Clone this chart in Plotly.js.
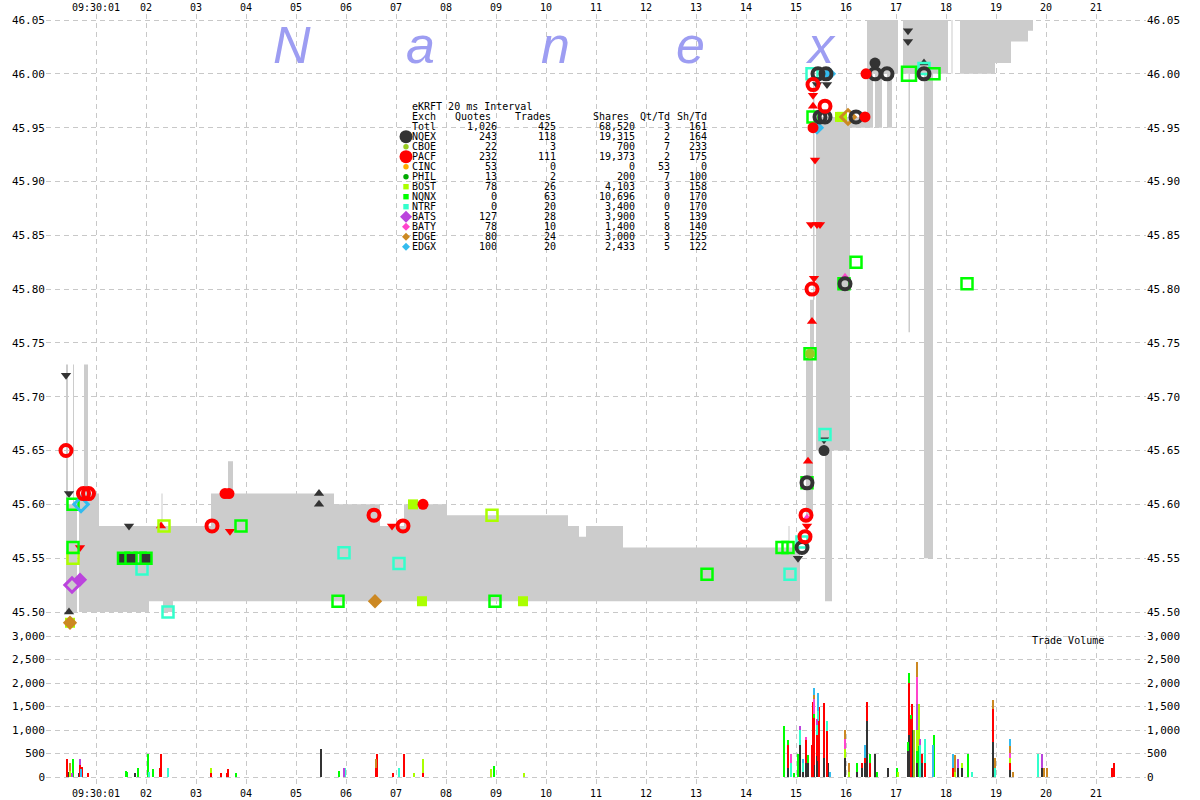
<!DOCTYPE html>
<html><head><meta charset="utf-8">
<script src="https://cdn.plot.ly/plotly-3.0.1.min.js"></script>
<style>html,body{margin:0;padding:0;background:#fff}#chart{width:1200px;height:800px}</style>
</head><body><div id="chart"></div>
<script>
// ---------- axis ticks ----------
const timeTicks = [1,2,3,4,5,6,7,8,9,10,11,12,13,14,15,16,17,18,19,20,21,22];
const timeLabels = ['09:30:01','02','03','04','05','06','07','08','09','10','11','12','13','14','15','16','17','18','19','20','21',''];
const priceTicks = [45.50,45.55,45.60,45.65,45.70,45.75,45.80,45.85,45.90,45.95,46.00,46.05];
const volTicks = [0,500,1000,1500,2000,2500,3000];

// ---------- summary table ----------
const exchNames = ['NQEX','CBOE','PACF','CINC','PHIL','BOST','NQNX','NTRF','BATS','BATY','EDGE','EDGX'];
const exchColors = ['#333333','#99cc22','#ff0000','#ffaa00','#00aa00','#aaff00','#00ff00','#33ffcc','#bb44dd','#ff44cc','#cc8822','#33bbee'];
const exchQuotes = [243,22,232,53,13,78,0,0,127,78,80,100];
const exchTrades = [118,3,111,0,2,26,63,20,28,10,24,20];
const exchShares = [19315,700,19373,0,200,4103,10696,3400,3900,1400,3000,2433];
const exchQtTd = [2,7,2,53,7,3,0,0,5,8,3,5];
const exchShTd = [164,233,175,0,100,158,170,170,139,140,125,122];
const totalRow = ['Totl',1026,425,68520,3,161];

// ---------- NBBO spread blocks: [start s, end s, low, high] ----------
const spreadBlocks = [
 [0.40,0.44,45.50,45.73],[0.54,0.56,45.50,45.73],[0.40,0.62,45.50,45.60],
 [0.66,1.06,45.50,45.61],[0.76,0.84,45.61,45.73],[1.06,2.06,45.50,45.58],
 [2.06,2.34,45.51,45.58],[2.34,2.54,45.50,45.58],[2.54,3.30,45.51,45.58],
 [2.31,2.33,45.58,45.61],[3.30,5.76,45.51,45.61],[3.64,3.74,45.61,45.64],
 [5.76,6.68,45.51,45.60],[6.68,7.16,45.51,45.58],[7.16,8.02,45.51,45.60],
 [8.02,10.44,45.51,45.59],[10.44,10.66,45.51,45.58],[10.66,10.80,45.51,45.57],
 [10.80,11.54,45.51,45.58],[11.54,15.08,45.51,45.56],[14.85,14.87,45.56,45.58],
 [15.20,15.34,45.59,45.74],[15.28,15.36,45.74,45.79],[15.34,15.37,45.79,46.00],
 [15.40,16.08,45.65,45.96],[15.58,15.72,45.51,45.65],[16.08,16.44,45.95,45.96],
 [16.42,17.04,46.00,46.05],[16.42,16.54,45.95,46.00],[16.58,16.72,45.95,46.00],
 [16.82,16.92,45.95,46.00],[17.14,18.04,46.00,46.05],[17.25,17.28,45.76,46.00],
 [17.56,17.74,45.55,46.00],[18.11,18.13,46.00,46.05],[18.28,18.98,46.00,46.05],
 [18.98,19.30,46.01,46.05],[19.30,19.64,46.03,46.05],[19.64,19.74,46.04,46.05]
];

// ---------- price points [time s, price] ----------
const tradesNQEX = [[15.44,46.00],[15.60,46.00],[15.48,45.96],[15.58,45.96],[16.20,45.96],[16.58,46.00],[16.82,46.00],[17.56,46.00],[15.22,45.62],[15.98,45.805],[15.12,45.56]];
const solidNQEX = [[16.58,46.01],[15.56,45.65]];
const bidsNQEX = [[0.46,45.50],[5.46,45.61],[5.46,45.60],[17.56,46.01]];
const asksNQEX = [[0.40,45.72],[0.46,45.61],[1.66,45.58],[15.42,45.99],[15.62,45.99],[15.56,45.66],[17.24,46.04],[17.24,46.03],[15.04,45.55]];
const tradesPACF = [[0.40,45.65],[0.75,45.61],[0.85,45.61],[3.32,45.58],[6.56,45.59],[7.14,45.58],[15.18,45.57],[15.20,45.59],[15.32,45.80],[15.58,45.97],[15.34,45.99]];
const solidPACF = [[3.58,45.61],[3.66,45.61],[7.54,45.60],[16.40,46.00],[16.38,45.96],[15.34,45.95]];
const bidsPACF = [[2.30,45.58],[15.24,45.64],[15.32,45.77],[15.34,45.97]];
const asksPACF = [[0.68,45.56],[3.68,45.575],[6.92,45.58],[15.22,45.58],[15.34,45.98],[15.38,45.92],[15.36,45.81],[15.30,45.86],[15.42,45.86],[15.48,45.86]];
const tradesNQNX = [[0.54,45.60],[0.54,45.56],[1.88,45.55],[3.90,45.58],[5.84,45.51],[8.98,45.51],[13.22,45.535],[14.72,45.56],[14.84,45.56],[15.22,45.62],[15.28,45.74],[15.96,45.805],[16.20,45.825],[18.42,45.805],[17.76,46.00],[15.34,45.96]];
const darkNQNX = [[1.55,45.55],[1.70,45.55],[2.00,45.55]];
const bigNQNX = [[17.26,46.00]];
const tradesBOST = [[0.54,45.55],[2.36,45.58],[8.92,45.59]];
const solidBOST = [[0.48,45.49],[7.34,45.60],[7.52,45.51],[9.54,45.51],[15.88,45.96],[15.92,45.96]];
const tradesNTRF = [[1.92,45.54],[2.44,45.50],[5.96,45.555],[7.06,45.545],[14.88,45.535],[15.12,45.565],[15.58,45.665],[15.32,46.00],[17.56,46.005]];
const pointsCBOE = [[15.28,45.74]];
const solidEDGE = [[0.48,45.49],[6.58,45.51]];
const openEDGE = [[16.04,45.96]];
const solidEDGX = [[15.66,46.00],[15.42,45.95]];
const openEDGX = [[0.70,45.60]];
const openBATS = [[0.52,45.525]];
const solidBATS = [[0.68,45.53]];
const pointsBATY = [[15.22,45.588],[15.98,45.812]];

// ---------- trade volume per 20 ms interval [time s, shares] ----------
const volNQEX = [[0.42,90],[0.46,100],[0.66,90],[1.77,90],[5.50,600],[14.84,200],[15.08,680],[15.14,100],[15.20,300],[15.24,300],[15.36,250],[15.42,450],[15.44,350],[15.56,400],[15.64,300],[15.98,400],[16.22,100],[16.32,200],[16.38,300],[16.42,1200],[16.58,480],[16.84,200],[17.23,550],[17.26,900],[17.32,1000],[17.42,300],[17.52,300],[18.24,200],[18.32,200],[18.94,750],[19.28,150],[19.92,200]];
const volPACF = [[0.41,380],[0.68,250],[0.72,210],[0.84,90],[2.28,200],[2.30,490],[3.30,90],[3.50,90],[3.62,90],[3.64,170],[6.60,200],[6.62,490],[6.94,90],[7.15,490],[7.53,90],[14.84,490],[15.20,490],[15.32,680],[15.34,1600],[15.36,1000],[15.42,450],[15.44,850],[15.46,1480],[15.56,1180],[15.62,985],[16.32,100],[16.38,100],[16.42,400],[16.48,300],[17.26,1090],[17.30,1230],[17.32,560],[17.52,200],[17.58,300],[18.14,200],[18.94,690],[19.28,150],[21.32,200],[21.36,300]];
const volNQNX = [[0.54,380],[1.60,125],[1.62,100],[1.83,190],[2.03,500],[2.13,170],[3.80,90],[5.86,130],[8.96,240],[14.76,1085],[14.84,100],[14.96,90],[15.04,480],[15.24,160],[15.36,100],[16.22,200],[16.48,180],[16.62,100],[17.02,190],[17.23,200],[17.26,220],[17.30,80],[17.42,250],[17.46,650],[17.76,900],[18.44,500]];
const volBOST = [[0.47,120],[3.30,100],[7.35,90],[7.53,290],[8.90,170],[9.56,90],[15.98,200],[16.06,100],[17.04,100],[17.42,450],[17.46,900],[18.18,100],[18.32,100],[19.28,100]];
const volNTRF = [[2.05,100],[2.44,190],[5.98,190],[7.05,190],[14.90,300],[15.08,320],[15.14,200],[15.42,200],[15.44,200],[15.62,215],[17.48,690],[17.58,500],[18.52,100],[18.98,200],[19.84,500]];
const volBATS = [[0.52,90],[0.68,130],[5.96,190],[15.08,85],[15.42,140],[17.42,550],[17.48,110],[18.24,175],[19.92,300]];
const volBATY = [[14.90,200],[15.20,60],[15.36,300],[15.98,200],[17.42,580],[19.28,110]];
const volEDGE = [[0.47,180],[6.60,180],[15.36,100],[15.98,200],[16.06,200],[17.42,310],[18.18,370],[18.94,190],[18.98,200],[19.28,150],[19.34,100],[19.96,200],[20.02,200]];
const volEDGX = [[0.69,180],[15.14,90],[15.36,150],[15.44,390],[15.68,100],[16.38,290],[17.74,690],[18.14,300],[19.28,140]];
const volCBOE = [[17.36,990]];

// ---------- build ----------
const C = {}; exchNames.forEach((n,i)=>C[n]=exchColors[i]);
const traces = [];

// spread shading
const bx=[], by=[];
spreadBlocks.forEach(b=>{ bx.push(b[0],b[1],b[1],b[0],b[0],null); by.push(b[2],b[2],b[3],b[3],b[2],null); });
traces.push({type:'scatter',mode:'lines',x:bx,y:by,fill:'toself',fillcolor:'#cccccc',
  line:{width:0,color:'rgba(0,0,0,0)'},hoverinfo:'skip',showlegend:false,xaxis:'x',yaxis:'y'});

function pts(arr, sym, color, size, lw, lcolor){
  traces.push({type:'scatter',mode:'markers',x:arr.map(p=>p[0]),y:arr.map(p=>p[1]),
    marker:{symbol:sym,color:color,size:size,line:{width:lw,color:lcolor||color}},
    hoverinfo:'skip',showlegend:false,xaxis:'x',yaxis:'y',cliponaxis:false});
}
pts(asksNQEX,'triangle-down',C.NQEX,9,0);
pts(bidsNQEX,'triangle-up',C.NQEX,9,0);
pts(asksPACF,'triangle-down',C.PACF,9,0);
pts(bidsPACF,'triangle-up',C.PACF,9,0);
pts(tradesNTRF,'square-open',C.NTRF,11,2.5);
pts(tradesBOST,'square-open',C.BOST,11,2.5);
pts(solidBOST,'square',C.BOST,10,0);
pts(tradesNQNX,'square-open',C.NQNX,11,2.5);
pts(darkNQNX,'square',C.NQEX,11,2.5,C.NQNX);
pts(bigNQNX,'square-open',C.NQNX,14,2.5);
pts(pointsCBOE,'circle',C.CBOE,10,0);
pts(openBATS,'diamond-open',C.BATS,11,3);
pts(solidBATS,'diamond',C.BATS,11,0);
pts(pointsBATY,'triangle-up',C.BATY,7,0);
pts(solidEDGE,'diamond',C.EDGE,11,0);
pts(openEDGE,'diamond-open',C.EDGE,11,3);
pts(openEDGX,'diamond-open',C.EDGX,11,3);
pts(solidEDGX,'diamond',C.EDGX,11,0);
pts(tradesNQEX,'circle-open',C.NQEX,11,4);
pts(solidNQEX,'circle',C.NQEX,11,0);
pts(tradesPACF,'circle-open',C.PACF,11,4);
pts(solidPACF,'circle',C.PACF,11,0);

// volume bars (stacked)
[['NQEX',volNQEX],['PACF',volPACF],['NQNX',volNQNX],['BOST',volBOST],['NTRF',volNTRF],
 ['BATS',volBATS],['BATY',volBATY],['EDGE',volEDGE],['EDGX',volEDGX],['CBOE',volCBOE]].forEach(([n,arr])=>{
  traces.push({type:'bar',x:arr.map(p=>p[0]),y:arr.map(p=>p[1]),width:0.04,
    marker:{color:C[n],line:{width:0}},hoverinfo:'skip',showlegend:false,xaxis:'x2',yaxis:'y2'});
});
// carriers for right-side axes
traces.push({type:'scatter',mode:'markers',x:[null],y:[null],xaxis:'x',yaxis:'y3',showlegend:false,hoverinfo:'skip'});
traces.push({type:'scatter',mode:'markers',x:[null],y:[null],xaxis:'x2',yaxis:'y4',showlegend:false,hoverinfo:'skip'});

// geometry helpers (pixel -> paper)
const L=46, R=54, T=14, B=14, W=1200, H=800;
const pw=W-L-R, ph=H-T-B;
const xp = px => (px-L)/pw;
const yp = py => (H-B-py)/ph;
const splitY = yp(626);

const mono = 'DejaVu Sans Mono';
const tickF = {family:mono,size:10,color:'#000'};
const yTickF = {family:mono,size:11,color:'#000'};
const grid = {showgrid:true,gridcolor:'#c8c8c8',gridwidth:1,griddash:'5px,4px',zeroline:false,showline:false,ticks:''};

const annotations = [];
const shapes = [];
// watermark
['N','a','n','e','x'].forEach((ch,i)=>{
  annotations.push({xref:'paper',yref:'paper',x:xp([292,420,555,690,820][i]),y:yp(45),text:ch,showarrow:false,
    xanchor:'center',yanchor:'middle',height:44,valign:'middle',borderpad:0,borderwidth:0,
    font:{family:'Liberation Sans',size:52,color:'#9d9df2',style:'italic'}});
});
function cell(txt, px, py, anchor){
  annotations.push({xref:'paper',yref:'paper',x:xp(px),y:yp(py),text:txt,showarrow:false,
    xanchor:anchor,yanchor:'middle',borderpad:0,borderwidth:0,font:{family:mono,size:10,color:'#000'}});
}
const fmt = v => v.toLocaleString('en-US');
cell('eKRFT 20 ms Interval',412,106.7,'left');
cell('Exch',412,116.7,'left');
cell('Quotes',491,116.7,'right'); cell('Trades',551,116.7,'right'); cell('Shares',629,116.7,'right');
cell('Qt/Td',670,116.7,'right'); cell('Sh/Td',707,116.7,'right');
const colX = [497,556,635,670,707];
function row(vals, py){
  cell(vals[0],412,py,'left');
  for(let k=1;k<6;k++) cell(fmt(vals[k]),colX[k-1],py,'right');
}
row(totalRow,126.7);
exchNames.forEach((n,i)=>{
  const py = 136.7+10*i;
  row([n,exchQuotes[i],exchTrades[i],exchShares[i],exchQtTd[i],exchShTd[i]],py);
  const big = (n==='NQEX'||n==='PACF');
  const isSq = ['BOST','NQNX','NTRF'].includes(n);
  const isDi = ['BATS','BATY','EDGE','EDGX'].includes(n);
  const r = big?6.5:(n==='BATS'?6:(isDi?4:2.7));
  const base = {xref:'paper',yref:'paper',xsizemode:'pixel',ysizemode:'pixel',xanchor:xp(406),yanchor:yp(py),
    fillcolor:exchColors[i],line:{width:0},layer:'above'};
  if(isDi) shapes.push(Object.assign({type:'path',path:`M0,${-r} L${r},0 L0,${r} L${-r},0 Z`},base));
  else if(isSq) shapes.push(Object.assign({type:'rect',x0:-r,x1:r,y0:-r,y1:r},base));
  else shapes.push(Object.assign({type:'circle',x0:-r,x1:r,y0:-r,y1:r},base));
});
cell('Trade Volume',1104,640,'right');

const layout = {
  width:W,height:H,margin:{l:L,r:R,t:T,b:B,pad:0},
  paper_bgcolor:'#fff',plot_bgcolor:'#fff',showlegend:false,barmode:'stack',
  xaxis:Object.assign({domain:[0,1],range:[0,22],anchor:'y',side:'top',tickvals:timeTicks,ticktext:timeLabels,tickfont:tickF},grid),
  xaxis2:Object.assign({domain:[0,1],range:[0,22],anchor:'y2',side:'bottom',matches:'x',tickvals:timeTicks,ticktext:timeLabels,tickfont:tickF},grid),
  yaxis:Object.assign({domain:[splitY,1],range:[45.487,46.0556],anchor:'x',side:'left',tickvals:priceTicks,tickformat:'.2f',tickfont:yTickF},grid),
  yaxis3:{overlaying:'y',side:'right',anchor:'x',range:[45.487,46.0556],tickvals:priceTicks,tickformat:'.2f',tickfont:yTickF,showgrid:false,zeroline:false,showline:false,ticks:''},
  yaxis2:Object.assign({domain:[0,splitY],range:[-191.5,3212.8],anchor:'x2',side:'left',tickvals:volTicks,tickformat:',d',tickfont:yTickF},grid),
  yaxis4:{overlaying:'y2',side:'right',anchor:'x2',range:[-191.5,3212.8],tickvals:volTicks,tickformat:',d',tickfont:yTickF,showgrid:false,zeroline:false,showline:false,ticks:''},
  annotations:annotations,shapes:shapes
};
Plotly.newPlot('chart',traces,layout,{staticPlot:true,displayModeBar:false});
</script></body></html>
